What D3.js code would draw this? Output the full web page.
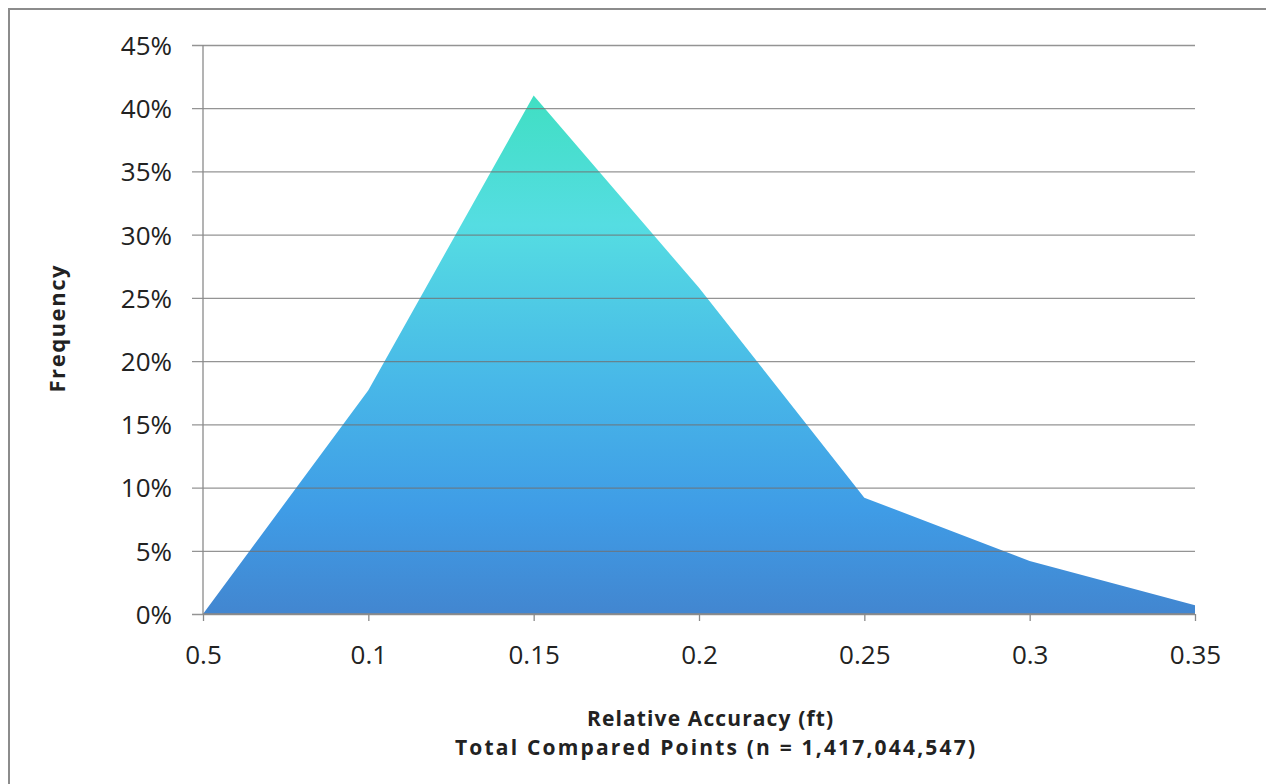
<!DOCTYPE html>
<html>
<head>
<meta charset="utf-8">
<script src="https://cdn.jsdelivr.net/npm/d3@7"></script>
<style>
  html, body { margin: 0; padding: 0; background: #fff; }
  svg { display: block; }
  text { font-family: "Open Sans", "Noto Sans", sans-serif; fill: #222; }
</style>
</head>
<body>
<svg id="chart" width="1266" height="784"></svg>
<script>
// Relative accuracy bins (ft) and the share of compared points in each
const categories = ["0.5", "0.1", "0.15", "0.2", "0.25", "0.3", "0.35"];
const frequency = [0.0, 0.177, 0.410, 0.258, 0.092, 0.042, 0.007];
const yTicks = [0, 0.05, 0.10, 0.15, 0.20, 0.25, 0.30, 0.35, 0.40, 0.45];
const xTitle = "Relative Accuracy (ft)";
const xSubtitle = "Total Compared Points (n = 1,417,044,547)";
const yTitle = "Frequency";

const svg = d3.select("#chart");
const W = 1266, H = 784;
const margin = { left: 203, right: 71, top: 45, bottom: 170 };
const plotW = W - margin.left - margin.right;
const plotH = H - margin.top - margin.bottom;

// outer chart frame
svg.append("path")
  .attr("d", `M9,${H} V9 H${W}`)
  .attr("fill", "none")
  .attr("stroke", "#8c8c8c")
  .attr("stroke-width", 2);

const g = svg.append("g").attr("transform", `translate(${margin.left},${margin.top})`);

const x = d3.scalePoint().domain(categories).range([0, plotW]);
const y = d3.scaleLinear().domain([0, 0.45]).range([plotH, 0]);

// vertical gradient from teal at the peak to blue at the baseline
const defs = svg.append("defs");
const grad = defs.append("linearGradient")
  .attr("id", "areaFill")
  .attr("gradientUnits", "userSpaceOnUse")
  .attr("x1", 0).attr("x2", 0)
  .attr("y1", y(d3.max(frequency))).attr("y2", y(0));
grad.append("stop").attr("offset", "0%").attr("stop-color", "#40dfc3");
grad.append("stop").attr("offset", "25%").attr("stop-color", "#55dde2");
grad.append("stop").attr("offset", "55%").attr("stop-color", "#48b8e8");
grad.append("stop").attr("offset", "80%").attr("stop-color", "#3f9ce6");
grad.append("stop").attr("offset", "100%").attr("stop-color", "#4286d0");

const data = categories.map((c, i) => ({ c, v: frequency[i] }));

const area = d3.area()
  .x(d => x(d.c))
  .y0(y(0))
  .y1(d => y(d.v));

g.append("path")
  .datum(data)
  .attr("d", area)
  .attr("fill", "url(#areaFill)");

// horizontal gridlines drawn over the fill
const yAxis = d3.axisLeft(y)
  .tickValues(yTicks)
  .tickSize(-plotW)
  .tickFormat(d3.format(".0%"));

const yg = g.append("g").call(yAxis);
yg.select(".domain").remove();
yg.selectAll(".tick line")
  .attr("x1", -11)
  .attr("stroke", "#707070")
  .attr("stroke-opacity", 0.75)
  .attr("stroke-width", 1.3);
yg.selectAll(".tick text")
  .attr("font-size", 26)
  .attr("fill", "#222")
  .attr("x", -31)
  .attr("dy", "0.36em");

// vertical axis line
g.append("line")
  .attr("x1", 0).attr("x2", 0)
  .attr("y1", 0).attr("y2", plotH)
  .attr("stroke", "#8a8a8a")
  .attr("stroke-width", 1.3);

// category axis
const xAxis = d3.axisBottom(x).tickSize(7).tickPadding(25);
const xg = g.append("g").attr("transform", `translate(0,${plotH})`).call(xAxis);
xg.select(".domain")
  .attr("stroke", "#8a8a8a")
  .attr("stroke-width", 1.3)
  .attr("d", `M0,0H${plotW}`);
xg.selectAll(".tick line").attr("stroke", "#8a8a8a").attr("stroke-width", 1.3);
xg.selectAll(".tick text")
  .attr("font-size", 26)
  .attr("fill", "#222");

// axis titles
svg.append("text")
  .attr("x", 710).attr("y", 726)
  .attr("text-anchor", "middle")
  .attr("font-size", 21)
  .attr("font-weight", "bold")
  .attr("textLength", 246)
  .attr("lengthAdjust", "spacing")
  .text(xTitle);
svg.append("text")
  .attr("x", 715).attr("y", 755)
  .attr("text-anchor", "middle")
  .attr("font-size", 21)
  .attr("font-weight", "bold")
  .attr("textLength", 520)
  .attr("lengthAdjust", "spacing")
  .text(xSubtitle);

svg.append("text")
  .attr("transform", "translate(65,329) rotate(-90)")
  .attr("text-anchor", "middle")
  .attr("font-size", 22)
  .attr("font-weight", "bold")
  .attr("textLength", 127)
  .attr("lengthAdjust", "spacing")
  .text(yTitle);
</script>
</body>
</html>
